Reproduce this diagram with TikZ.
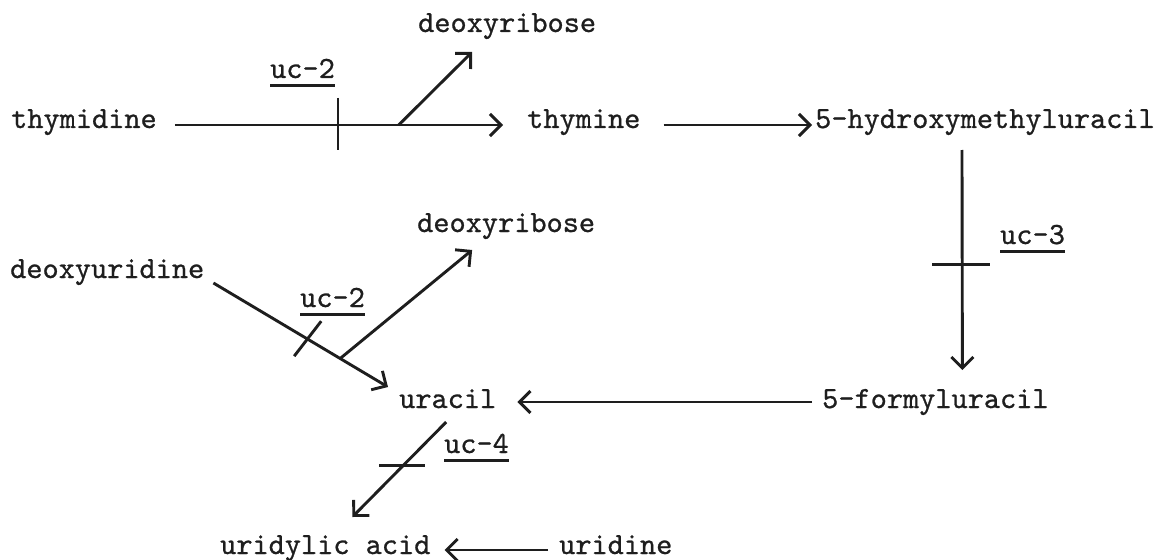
\documentclass[tikz,border=0pt]{standalone}
\usepackage{fontspec}
\setmonofont{lmmono10-regular.otf}[FakeBold=0.8]
\usetikzlibrary{arrows.meta,calc}
\definecolor{ink}{RGB}{30,30,30}
\tikzset{
  lbl/.style={font=\fontsize{30.8}{36}\selectfont\ttfamily, inner sep=0pt, anchor=base west, text=ink},
  arr/.style={draw=ink, line width=2.9pt, -{Straight Barb[length=11pt,width=22pt]}},
  tick/.style={draw=ink, line width=2.9pt},
  ul/.style={draw=ink, line width=2.2pt},
}
\begin{document}
\begin{tikzpicture}[x=1pt,y=-1pt]
\useasboundingbox (0,0) rectangle (1166,559);
% labels
\node[lbl] (dr1) at (418,32) {deoxyribose};
\node[lbl] (uc2a) at (270,78) {uc-2};
\node[lbl] (thd) at (11,128) {thymidine};
\node[lbl] (thy) at (527,128) {thymine};
\node[lbl] (hmu) at (815,128) {5-hydroxymethyluracil};
\node[lbl] (dr2) at (417,232) {deoxyribose};
\node[lbl] (uc3) at (1000,244) {uc-3};
\node[lbl] (dur) at (10,278) {deoxyuridine};
\node[lbl] (uc2b) at (300,307) {uc-2};
\node[lbl] (ura) at (399,408) {uracil};
\node[lbl] (fu) at (822,408) {5-formyluracil};
\node[lbl] (uc4) at (444,453) {uc-4};
\node[lbl] (uma) at (220,554) {uridylic acid};
\node[lbl] (urd) at (559,554) {uridine};
% underlines
\foreach \n in {uc2a,uc2b,uc3,uc4}
  \draw[ul] ($(\n.base west)+(0,7.5)$) -- ($(\n.base east)+(0,7.5)$);
% thymidine -> thymine
\draw[arr] ($(thd.base east)+(18,-3)$) -- coordinate[pos=0.497](t1) coordinate[pos=0.682](b1) ($(thy.base west)+(-24,-3)$);
\draw[tick] ($(t1)+(0,-27)$) -- ($(t1)+(0,25)$);
\draw[arr] (b1) -- ($(dr1.base)+(-35,20)$);
% thymine -> 5-hydroxymethyluracil
\draw[arr] ($(thy.base east)+(23,-3)$) -- ($(hmu.base west)+(-3,-3)$);
% 5-hydroxymethyluracil -> 5-formyluracil
\draw[arr] ($(hmu.base)+(-23,22)$) -- coordinate[pos=0.52](t3) ($(fu.base)+(27,-38)$);
\draw[tick] ($(t3)+(-30,0)$) -- ($(t3)+(28,0)$);
% 5-formyluracil -> uracil
\draw[arr] ($(fu.base west)+(-10,-6)$) -- ($(ura.base east)+(21,-6)$);
% deoxyuridine -> uracil
\draw[arr] ($(dur.base east)+(9,5)$) -- coordinate[pos=0.54](t2) coordinate[pos=0.726](b2) ($(ura.base west)+(-11,-21)$);
\draw[tick] ($(t2)+(13.5,-18)$) -- ($(t2)+(-13.5,17)$);
\draw[arr] (b2) -- ($(dr2.base)+(-34,18)$);
% uracil -> uridylic acid
\draw[arr] ($(ura.base)+(-1.5,14)$) -- coordinate[pos=0.46](t4) ($(uma.base)+(27,-37)$);
\draw[tick] ($(t4)+(-24,0)$) -- ($(t4)+(22,0)$);
% uridine -> uridylic acid
\draw[arr] ($(urd.base west)+(-11,-4)$) -- ($(uma.base east)+(14,-4)$);
\end{tikzpicture}
\end{document}
